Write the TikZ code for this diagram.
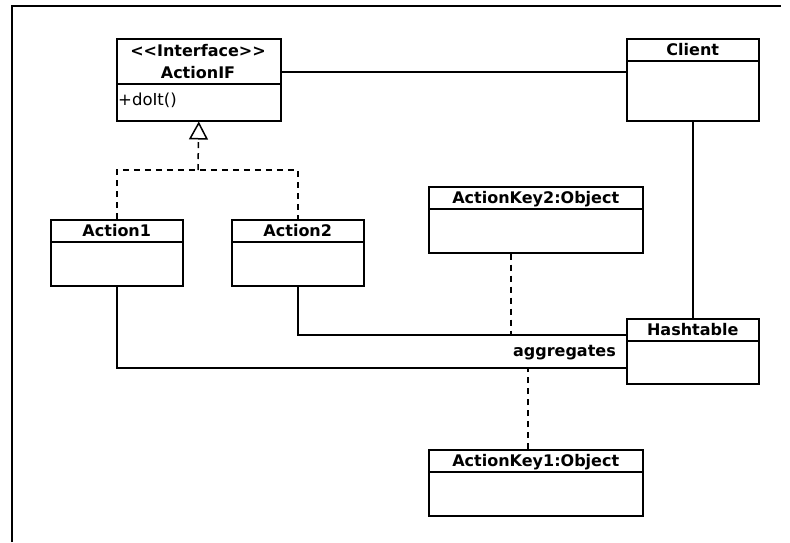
\documentclass[tikz,border=0pt]{standalone}
\usepackage{fontspec}
\setmainfont{DejaVu Sans}
\usepackage{tikz}
\usetikzlibrary{arrows.meta, positioning, calc}

\tikzset{
  classbox/.style={draw, line width=1.5pt, anchor=north west, inner sep=0pt},
  classname/.style={font=\fontsize{16}{18}\selectfont\bfseries, text height=11.5pt, text depth=3pt, inner sep=0pt},
  assoc/.style={line width=1.5pt},
  realize/.style={line width=1.5pt, dash pattern=on 6pt off 5pt}
}

\begin{document}
\begin{tikzpicture}[x=1pt, y=-1pt]
  \useasboundingbox (0,0) rectangle (790,542);
  % frame
  \draw[line width=2.5pt] (12,542) -- (12,6) -- (781,6);

  % interface
  \node[classbox, minimum width=164pt, minimum height=82pt] (actionif) at (116,38) {};
  \node[classname] at (198,52) {<{}<Interface>{}>};
  \node[classname] at (198,74) {ActionIF};
  \draw[assoc] ([yshift=-46pt]actionif.north west) -- ([yshift=-46pt]actionif.north east);
  \node[anchor=west, inner sep=0pt, font=\fontsize{16.5}{18}\selectfont] at (118,100) {+doIt()};

  % classes and objects
  \foreach \n/\x/\y/\w/\h/\t in {client/626/38/132/82/Client,
                                 action1/50/219/132/66/Action1,
                                 action2/231/219/132/66/Action2,
                                 keytwo/428/186/214/66/ActionKey2:Object,
                                 hashtable/626/318/132/65/Hashtable,
                                 keyone/428/449/214/66/ActionKey1:Object} {
    \node[classbox, minimum width=\w pt, minimum height=\h pt] (\n) at (\x,\y) {};
    \node[classname] at ([yshift=-13pt]\n.north) {\t};
    \draw[assoc] ([yshift=-23pt]\n.north west) -- ([yshift=-23pt]\n.north east);
  }

  % associations
  \draw[assoc] ([yshift=8pt]actionif.east) -- ([yshift=8pt]client.west);
  \draw[assoc] (client.south) -- (hashtable.north);
  \coordinate (a2in) at ([yshift=16.5pt]hashtable.west);
  \coordinate (a1in) at ([yshift=-16.5pt]hashtable.west);
  \draw[assoc] (action2.south) |- (a2in);
  \draw[assoc] (action1.south) |- (a1in);
  \node[classname, anchor=east] at (616,352) {aggregates};

  % realization
  \coordinate (split) at (198,170);
  \draw[realize] (action1.north) |- (split) -| (action2.north);
  \draw[realize, -{Triangle[open, length=18pt, width=19pt, line width=1.5pt]}] (split) -- (actionif.south);

  % keys
  \draw[realize] ([xshift=-25pt]keytwo.south) -- ([xshift=-25pt]keytwo.south |- a2in);
  \draw[realize] ([xshift=-8pt]keyone.north) -- ([xshift=-8pt]keyone.north |- a1in);
\end{tikzpicture}
\end{document}
